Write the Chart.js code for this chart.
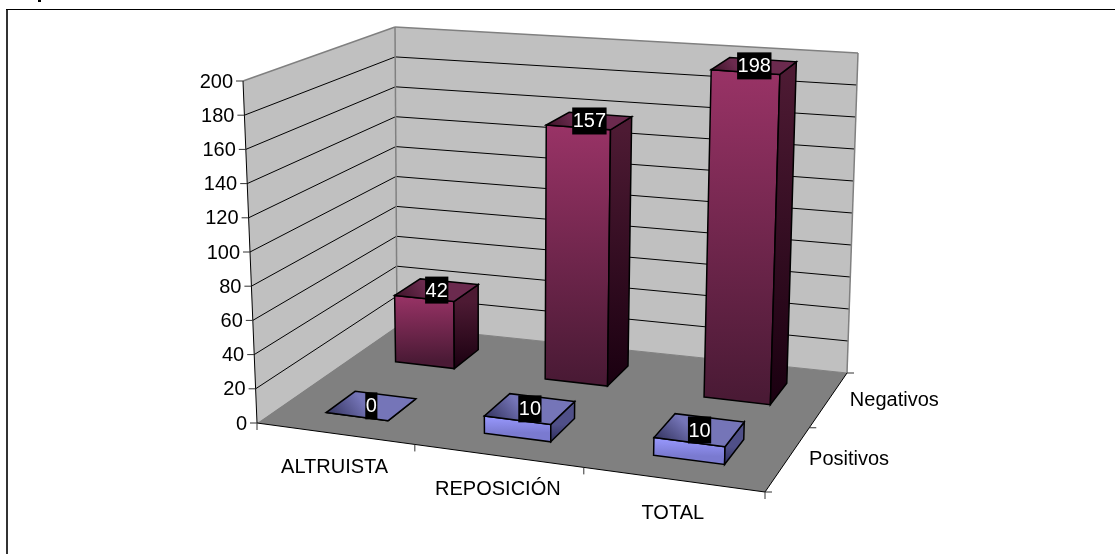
<!DOCTYPE html>
<html lang="es">
<head>
<meta charset="utf-8">
<title>Positivos y negativos por tipo de donante</title>
<script src="https://cdn.jsdelivr.net/npm/chart.js@4/dist/chart.umd.min.js"></script>
<style>
    html, body { margin: 0; padding: 0; background: #ffffff; }
    canvas { display: block; }
</style>
</head>
<body>
<canvas id="donorChart" width="1115" height="554"></canvas>
<script>
// Chart values
const categories = ['ALTRUISTA', 'REPOSICIÓN', 'TOTAL'];
const seriesNames = ['Positivos', 'Negativos'];
const positivos = [0, 10, 10];
const negativos = [42, 157, 198];
const yMax = 200;
const yStep = 20;

// Screen position of the box floor, and how far the box rises at each floor corner
const floorFL = [257, 423], floorFR = [765, 492], floorBR = [847, 373], floorBL = [397, 326];
const riseFL = [-14, -342], riseFR = [12, -365], riseBR = [11, -320], riseBL = [-2, -299];

const FONT = '20px "Liberation Sans", Arial, sans-serif';
const depthPercentage = 0.4;

// Floor homography from the unit square
const floorMap = (function() {
    const [x0, y0] = floorFL, [x1, y1] = floorFR, [x2, y2] = floorBR, [x3, y3] = floorBL;
    const sx = x0 - x1 + x2 - x3, sy = y0 - y1 + y2 - y3;
    const dx1 = x1 - x2, dy1 = y1 - y2, dx2 = x3 - x2, dy2 = y3 - y2;
    const den = dx1 * dy2 - dx2 * dy1;
    const g = (sx * dy2 - dx2 * sy) / den;
    const h = (dx1 * sy - sx * dy1) / den;
    return {
        a: x1 - x0 + g * x1, b: x3 - x0 + h * x3, c: x0,
        d: y1 - y0 + g * y1, e: y3 - y0 + h * y3, f: y0,
        g: g, h: h
    };
})();

// u runs along the categories, v into the depth, w up the value axis (all 0..1)
function project(u, v, w) {
    const m = floorMap;
    // Softens the foreshortening along the category axis a little
    const us = u + 0.03 * u * (1 - u);
    const q = m.g * us + m.h * v + 1;
    const px = (m.a * us + m.b * v + m.c) / q;
    const py = (m.d * us + m.e * v + m.f) / q;
    const rise = [0, 1].map(function(i) {
        const front = riseFL[i] + (riseFR[i] - riseFL[i]) * u;
        const back = riseBL[i] + (riseBR[i] - riseBL[i]) * u;
        return front + (back - front) * v;
    });
    return [px + rise[0] * w, py + rise[1] * w];
}

function polygon(ctx, pts, fill, stroke, lineWidth) {
    ctx.beginPath();
    pts.forEach(function(p, i) {
        if (i === 0) ctx.moveTo(p[0], p[1]);
        else ctx.lineTo(p[0], p[1]);
    });
    ctx.closePath();
    if (fill) {
        ctx.fillStyle = fill;
        ctx.fill();
    }
    if (stroke) {
        ctx.strokeStyle = stroke;
        ctx.lineWidth = lineWidth || 1;
        ctx.stroke();
    }
}

function line(ctx, a, b, color, lineWidth) {
    ctx.beginPath();
    ctx.moveTo(a[0], a[1]);
    ctx.lineTo(b[0], b[1]);
    ctx.strokeStyle = color;
    ctx.lineWidth = lineWidth || 1;
    ctx.stroke();
}

function gradient(ctx, from, to, c0, c1) {
    const grad = ctx.createLinearGradient(from[0], from[1], to[0], to[1]);
    grad.addColorStop(0, c0);
    grad.addColorStop(1, c1);
    return grad;
}

// Face colours per series
const faceColors = [
    { front: ['#9999ff', '#7a7ad0'], side: ['#4f4f88', '#2e2e5c'], top: ['#7575b8', '#34345f'] },
    { front: ['#993366', '#4a1a35'], side: ['#4d1a33', '#1a0010'], top: ['#6b2a4e', '#3d1429'] }
];

function drawBox(ctx, x, y, depth) {
    const tickValues = y.ticks.map(function(t) { return t.value; });

    // Walls and floor
    polygon(ctx, [project(0, 0, 0), project(0, 1, 0), project(0, 1, 1), project(0, 0, 1)], '#c0c0c0');
    polygon(ctx, [project(0, 1, 0), project(1, 1, 0), project(1, 1, 1), project(0, 1, 1)], '#c0c0c0');
    polygon(ctx, [project(0, 0, 0), project(1, 0, 0), project(1, 1, 0), project(0, 1, 0)], '#808080');

    // Grid lines on both walls
    tickValues.forEach(function(value) {
        const w = (y.bottom - y.getPixelForValue(value)) / y.height;
        if (w > 0 && w < 1) {
            line(ctx, project(0, 0, w), project(0, 1, w), '#000000');
            line(ctx, project(0, 1, w), project(1, 1, w), '#000000');
        }
    });

    // Wall outlines
    line(ctx, project(0, 0, 1), project(0, 1, 1), '#808080', 1.5);
    line(ctx, project(0, 1, 1), project(1, 1, 1), '#808080', 1.5);
    line(ctx, project(0, 1, 0), project(0, 1, 1), '#808080', 1.5);
    line(ctx, project(1, 1, 0), project(1, 1, 1), '#808080', 1.5);
    line(ctx, project(0, 1, 0), project(1, 1, 0), '#808080', 1);

    // Axis edges
    line(ctx, project(0, 0, 0), project(0, 0, 1), '#000000');
    line(ctx, project(0, 0, 0), project(1, 0, 0), '#000000');
    line(ctx, project(1, 0, 0), project(1, 1, 0), '#000000');

    ctx.font = FONT;
    ctx.fillStyle = '#000000';

    // Value axis ticks and labels
    ctx.textAlign = 'right';
    ctx.textBaseline = 'middle';
    y.ticks.forEach(function(t) {
        const w = (y.bottom - y.getPixelForValue(t.value)) / y.height;
        const p = project(0, 0, w);
        line(ctx, [p[0] - 7, p[1]], p, '#333333');
        ctx.fillStyle = '#000000';
        ctx.fillText(String(t.value), p[0] - 10, p[1] + 1);
    });

    // Category ticks and labels
    ctx.textAlign = 'center';
    for (let i = 0; i <= categories.length; i++) {
        const p = project(i / categories.length, 0, 0);
        line(ctx, p, [p[0], p[1] + 7], '#333333');
    }
    categories.forEach(function(name, i) {
        const u = (x.getPixelForValue(i) - x.left) / x.width;
        const p = project(u, 0, 0);
        ctx.fillStyle = '#000000';
        ctx.fillText(name, p[0], p[1] + 34);
    });

    // Series ticks and labels
    ctx.textAlign = 'left';
    for (let i = 0; i <= seriesNames.length; i++) {
        const p = project(1, i / seriesNames.length, 0);
        line(ctx, p, [p[0] + 7, p[1]], '#333333');
    }
    seriesNames.forEach(function(name, i) {
        const v = (depth.getPixelForValue(i) - depth.left) / depth.width;
        const p = project(1, v, 0);
        ctx.fillStyle = '#000000';
        ctx.fillText(name, p[0] + 21, p[1] + 1);
    });
}

function drawBar(ctx, bar, x, y, depth, row) {
    const colors = faceColors[row];
    const u0 = (bar.x - bar.width / 2 - x.left) / x.width;
    const u1 = (bar.x + bar.width / 2 - x.left) / x.width;
    const rowSize = depth.width / seriesNames.length;
    const v0 = (depth.getPixelForValue(row) - rowSize * depthPercentage / 2 - depth.left) / depth.width;
    const v1 = (depth.getPixelForValue(row) + rowSize * depthPercentage / 2 - depth.left) / depth.width;
    const w = (y.bottom - bar.y) / y.height;

    const fb0 = project(u0, v0, 0), fb1 = project(u1, v0, 0), bb1 = project(u1, v1, 0);
    const ft0 = project(u0, v0, w), ft1 = project(u1, v0, w), bt1 = project(u1, v1, w), bt0 = project(u0, v1, w);

    polygon(ctx, [fb0, fb1, ft1, ft0], gradient(ctx, ft0, fb0, colors.front[0], colors.front[1]), '#000000', 1.5);
    polygon(ctx, [fb1, bb1, bt1, ft1], gradient(ctx, ft1, fb1, colors.side[0], colors.side[1]), '#000000', 1.5);
    polygon(ctx, [ft0, ft1, bt1, bt0], gradient(ctx, bt0, ft0, colors.top[0], colors.top[1]), '#000000', 1.5);

    return [
        (ft0[0] + ft1[0] + bt1[0] + bt0[0]) / 4,
        (ft0[1] + ft1[1] + bt1[1] + bt0[1]) / 4
    ];
}

function drawValueLabel(ctx, center, text) {
    ctx.font = FONT;
    const boxW = ctx.measureText(text).width + 1;
    const boxH = 27;
    ctx.fillStyle = '#000000';
    ctx.fillRect(center[0] - boxW / 2, center[1] - boxH / 2, boxW, boxH);
    ctx.fillStyle = '#ffffff';
    ctx.textAlign = 'center';
    ctx.textBaseline = 'middle';
    ctx.fillText(text, center[0], center[1] + 1);
}

// Draws the 3D scene on top of the invisible bars, reading their scale positions
const scenePlugin = {
    id: 'scene3d',
    afterDatasetsDraw: function(chart) {
        const ctx = chart.ctx;
        const x = chart.scales.x, y = chart.scales.y, depth = chart.scales.depth;

        ctx.save();
        // Outer frame, open on the right and at the bottom
        ctx.fillStyle = '#333333';
        ctx.fillRect(6, 9, 2, 545);
        ctx.fillStyle = '#000000';
        ctx.fillRect(6, 9, 1109, 1);
        ctx.fillRect(38, 0, 3, 2);

        drawBox(ctx, x, y, depth);

        const labels = [];
        for (let row = seriesNames.length - 1; row >= 0; row--) {
            const meta = chart.getDatasetMeta(row);
            meta.data.forEach(function(bar, i) {
                const center = drawBar(ctx, bar, x, y, depth, row);
                labels.push({ center: center, text: String(chart.data.datasets[row].data[i]) });
            });
        }
        labels.forEach(function(item) {
            drawValueLabel(ctx, item.center, item.text);
        });
        ctx.restore();
    }
};

const chartCtx = document.getElementById('donorChart').getContext('2d');
new Chart(chartCtx, {
    type: 'bar',
    data: {
        labels: categories,
        datasets: [
            { label: seriesNames[0], data: positivos, backgroundColor: 'transparent' },
            { label: seriesNames[1], data: negativos, backgroundColor: 'transparent' }
        ]
    },
    options: {
        responsive: false,
        animation: false,
        events: [],
        grouped: false,
        barPercentage: 0.4,
        categoryPercentage: 1,
        plugins: {
            legend: { display: false },
            title: { display: false },
            tooltip: { enabled: false }
        },
        scales: {
            x: { type: 'category', display: false },
            depth: { type: 'category', axis: 'x', labels: seriesNames, offset: true, display: false },
            y: { type: 'linear', min: 0, max: yMax, display: false, ticks: { stepSize: yStep } }
        }
    },
    plugins: [scenePlugin]
});
</script>
</body>
</html>
